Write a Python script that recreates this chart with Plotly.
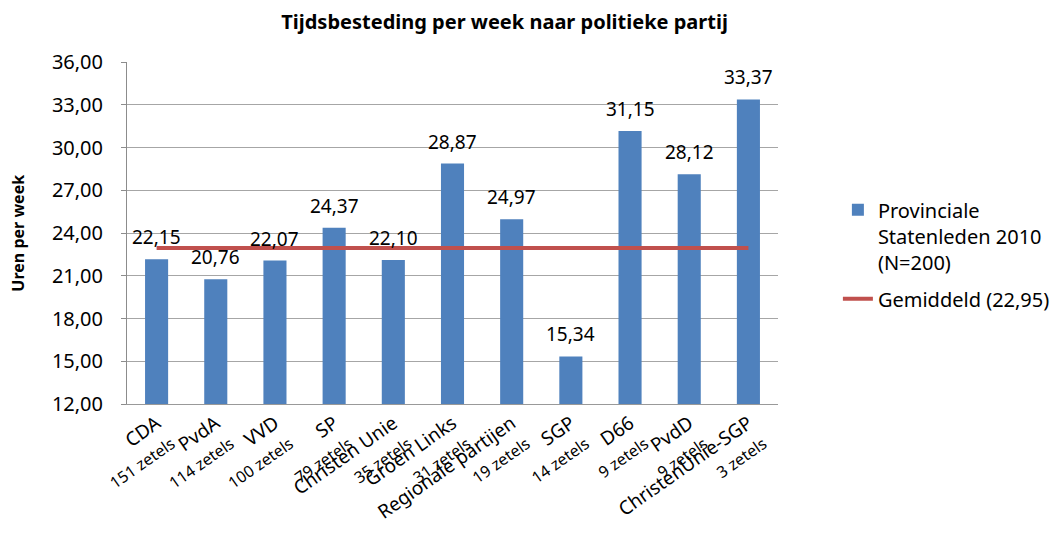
import plotly.graph_objects as go

parties = ["CDA", "PvdA", "VVD", "SP", "Christen Unie", "Groen Links",
           "Regionale partijen", "SGP", "D66", "PvdD", "ChristenUnie-SGP"]
seats = ["151 zetels", "114 zetels", "100 zetels", "79 zetels", "35 zetels",
         "31 zetels", "19 zetels", "14 zetels", "9 zetels", "9 zetels", "3 zetels"]
hours = [22.15, 20.76, 22.07, 24.37, 22.10, 28.87, 24.97, 15.34, 31.15, 28.12, 33.37]
mean_value = 22.95
y_ticks = [12, 15, 18, 21, 24, 27, 30, 33, 36]

FONT = "Noto Sans"
tick_text = [f"{p}<br><span style='font-size:16px'>{s}</span>" for p, s in zip(parties, seats)]

fig = go.Figure()
fig.add_trace(go.Bar(
    x=parties, y=hours, name="Provinciale<br>Statenleden 2010<br>(N=200)",
    legendgroup="a",
    marker=dict(color="#4F81BD", line=dict(width=0)),
))
fig.add_trace(go.Scatter(
    x=parties, y=[mean_value] * len(parties), mode="lines",
    name="Gemiddeld (22,95)", legendgroup="b",
    line=dict(color="#C0504D", width=4),
))

# data labels above the bars
for p, v in zip(parties, hours):
    fig.add_annotation(x=p, y=v, text=f"{v:.2f}".replace(".", ","),
                       showarrow=False, yanchor="bottom", yshift=7,
                       font=dict(family=FONT, size=19, color="#000000"))

fig.add_annotation(xref="paper", yref="paper", x=-0.168, y=0.5,
                   xanchor="center", yanchor="middle", textangle=-90,
                   text="<b>Uren per week</b>", showarrow=False,
                   font=dict(family=FONT, size=16, color="#000000"))

fig.update_layout(
    width=1056, height=535,
    margin=dict(l=119, r=286, t=54, b=139, autoexpand=False),
    paper_bgcolor="white", plot_bgcolor="white",
    separators=",.",
    bargap=0.61,
    font=dict(family=FONT, color="#000000"),
    title=dict(text="<b>Tijdsbesteding per week naar politieke partij</b>",
               x=0.58, xanchor="center", y=0.974, yanchor="middle",
               xref="paper",
               font=dict(family=FONT, size=20, color="#000000")),
    legend=dict(x=1.092, y=0.625, xanchor="left", yanchor="top",
                valign="top", traceorder="grouped", tracegroupgap=8,
                font=dict(family=FONT, size=20, color="#000000")),
    showlegend=True,
)
fig.update_xaxes(
    range=[-0.5, len(parties) - 0.5], automargin=False,
    tickmode="array", tickvals=parties, ticktext=tick_text,
    tickangle=-35, tickfont=dict(family=FONT, size=19, color="#000000"),
    showline=True, linecolor="#999999", linewidth=1, showgrid=False,
    ticks="",
)
fig.update_yaxes(
    range=[12, 36], tickvals=y_ticks, tickformat=".2f", automargin=False,
    tickfont=dict(family=FONT, size=20, color="#000000"),
    showgrid=True, gridcolor="#A6A6A6", gridwidth=1,
    showline=True, linecolor="#8C8C8C", linewidth=1,
    ticks="outside", ticklen=5, tickcolor="#8C8C8C",
    ticklabelstandoff=14,
    zeroline=False,
)

fig.write_html("out.html")
